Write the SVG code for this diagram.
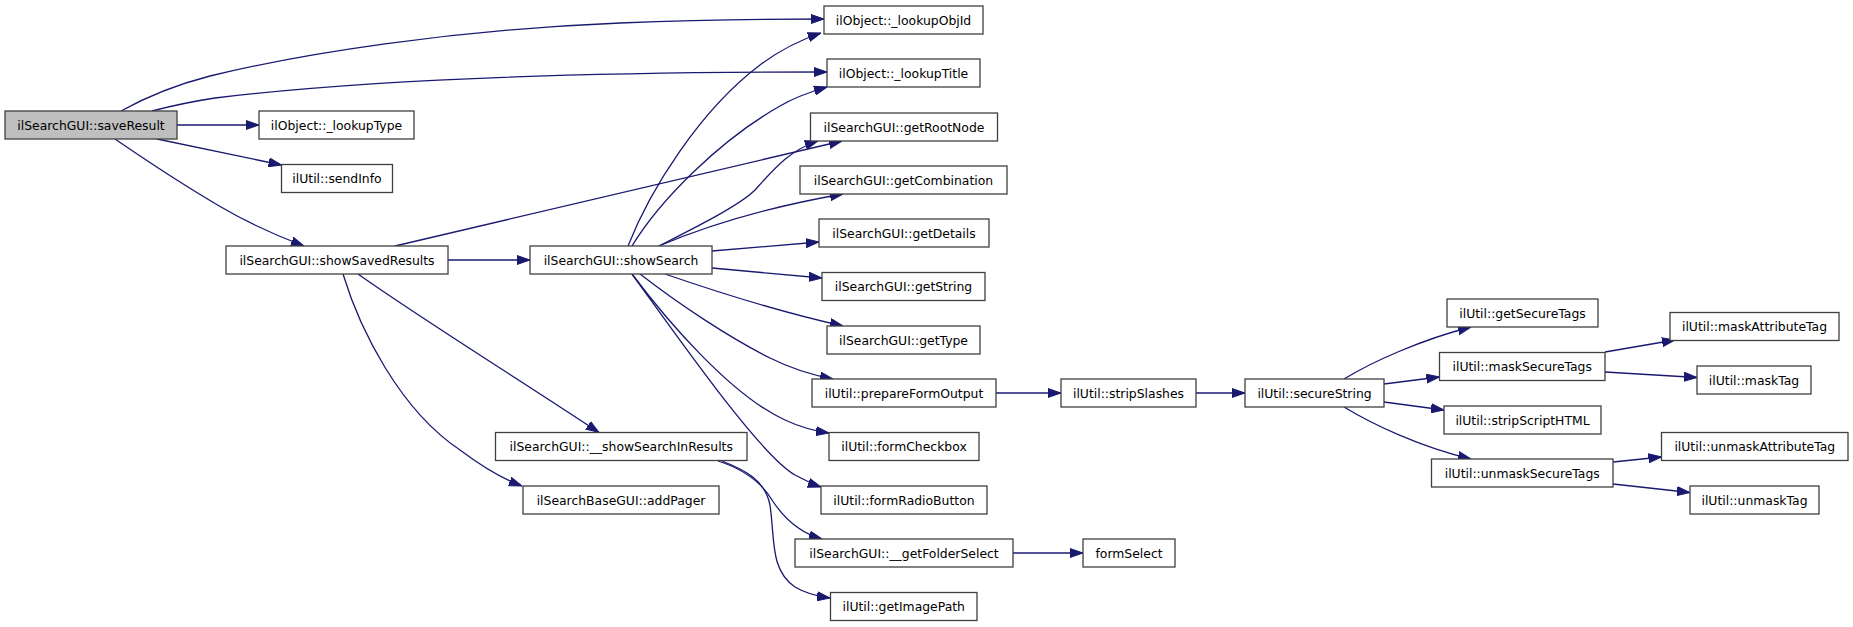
<svg xmlns="http://www.w3.org/2000/svg" width="1853" height="627" viewBox="0 0 1853 627">
<style>
.n rect{fill:#ffffff;stroke:#404040;stroke-width:1.3}
.n.cur rect{fill:#bfbfbf}
.n text{font-family:"DejaVu Sans",sans-serif;font-size:12.4px;fill:#000;text-anchor:middle}
.e path{fill:none;stroke:#191970;stroke-width:1.3;marker-end:url(#ah)}
</style>
<defs>
<marker id="ah" markerUnits="userSpaceOnUse" markerWidth="13" markerHeight="10" viewBox="0 0 13 10" refX="13" refY="5" orient="auto">
<path d="M0,0.5 L13,5 L0,9.5 z" fill="#191970" stroke="#191970" stroke-width="1"/>
</marker>
</defs>
<rect width="1853" height="627" fill="#ffffff"/>
<g id="connectors" class="e">
<path d="M121,111 C148,96 175,85 210,76 C300,54 450,30 620,23 C700,20 760,19 824,19"/>
<path d="M152,111 C175,105 195,101 215,98 C380,78 600,72 827,72"/>
<path d="M177,125 L259,125"/>
<path d="M157,139 L281.5,165"/>
<path d="M115,139 C150,163 185,186 221,207 C250,224 280,237 304,246"/>
<path d="M448,260 L530,260"/>
<path d="M395,246 L842,141"/>
<path d="M358,274 C420,318 520,380 599,432.5"/>
<path d="M343,274 C360,330 400,410 460,450 C480,465 500,478 522,486"/>
<path d="M628,246 C650,190 700,110 760,65 C780,50 800,40 821,33"/>
<path d="M632,246 C660,200 720,140 780,106 C795,97 810,92 827,87"/>
<path d="M659,246 C700,225 740,205 755,190 C775,168 790,150 818,141"/>
<path d="M659,246 C720,220 780,205 843,194"/>
<path d="M712,251 L819,242"/>
<path d="M712,268 L822,278"/>
<path d="M665,274 C720,293 780,312 843,326"/>
<path d="M640,274 C680,305 730,338 770,358 C792,369 812,375 833,379"/>
<path d="M632,274 C665,318 730,395 785,420 C800,427 815,431 829,433"/>
<path d="M632,274 C680,340 760,455 795,475 C805,480 812,484 821,487"/>
<path d="M718,461 C740,468 760,480 772,500 C785,520 800,533 822,539"/>
<path d="M722,461 C745,470 765,480 770,505 C775,540 770,570 795,587 C805,593 815,596 830,598"/>
<path d="M996,393 L1061,393"/>
<path d="M1013,553 L1083,553"/>
<path d="M1196,393 L1245,393"/>
<path d="M1344,379 C1372,362 1420,340 1471,327"/>
<path d="M1384,384 L1439.5,377"/>
<path d="M1384,402 L1444,410"/>
<path d="M1344,407 C1372,424 1420,447 1471,459"/>
<path d="M1605,352 L1675,340"/>
<path d="M1605,372 L1697,377.5"/>
<path d="M1613,462 L1661.5,457"/>
<path d="M1613,484 L1690,492.5"/>
</g>
<g id="saveResult" class="n cur"><rect x="5" y="111" width="172" height="28"/><text x="91" y="129.5">ilSearchGUI::saveResult</text></g>
<g id="lookupType" class="n"><rect x="259" y="111" width="155" height="28"/><text x="336.5" y="129.5">ilObject::_lookupType</text></g>
<g id="sendInfo" class="n"><rect x="281.5" y="164.5" width="111" height="28"/><text x="337" y="183">ilUtil::sendInfo</text></g>
<g id="showSavedResults" class="n"><rect x="226" y="246" width="222" height="28"/><text x="337" y="264.5">ilSearchGUI::showSavedResults</text></g>
<g id="showSearch" class="n"><rect x="530" y="246" width="182" height="28"/><text x="621" y="264.5">ilSearchGUI::showSearch</text></g>
<g id="showSearchInResults" class="n"><rect x="495.5" y="432.5" width="251.5" height="28"/><text x="621.25" y="451">ilSearchGUI::__showSearchInResults</text></g>
<g id="addPager" class="n"><rect x="523" y="486" width="196" height="28"/><text x="621" y="504.5">ilSearchBaseGUI::addPager</text></g>
<g id="lookupObjId" class="n"><rect x="824" y="6" width="159" height="28"/><text x="903.5" y="24.5">ilObject::_lookupObjId</text></g>
<g id="lookupTitle" class="n"><rect x="827" y="59" width="153" height="28"/><text x="903.5" y="77.5">ilObject::_lookupTitle</text></g>
<g id="getRootNode" class="n"><rect x="810.5" y="113" width="187" height="28"/><text x="904" y="131.5">ilSearchGUI::getRootNode</text></g>
<g id="getCombination" class="n"><rect x="800" y="166" width="207" height="28"/><text x="903.5" y="184.5">ilSearchGUI::getCombination</text></g>
<g id="getDetails" class="n"><rect x="819" y="219" width="170" height="28"/><text x="904" y="237.5">ilSearchGUI::getDetails</text></g>
<g id="getString" class="n"><rect x="822" y="272.5" width="163" height="28"/><text x="903.5" y="291">ilSearchGUI::getString</text></g>
<g id="getType" class="n"><rect x="827" y="326" width="153" height="28"/><text x="903.5" y="344.5">ilSearchGUI::getType</text></g>
<g id="prepareFormOutput" class="n"><rect x="812" y="379" width="184" height="28"/><text x="904" y="397.5">ilUtil::prepareFormOutput</text></g>
<g id="formCheckbox" class="n"><rect x="829" y="432.5" width="150" height="28"/><text x="904" y="451">ilUtil::formCheckbox</text></g>
<g id="formRadioButton" class="n"><rect x="821" y="486" width="166" height="28"/><text x="904" y="504.5">ilUtil::formRadioButton</text></g>
<g id="getFolderSelect" class="n"><rect x="795" y="539" width="218" height="28"/><text x="904" y="557.5">ilSearchGUI::__getFolderSelect</text></g>
<g id="getImagePath" class="n"><rect x="830.5" y="592.5" width="146.5" height="28"/><text x="903.75" y="611">ilUtil::getImagePath</text></g>
<g id="stripSlashes" class="n"><rect x="1061" y="379" width="135" height="28"/><text x="1128.5" y="397.5">ilUtil::stripSlashes</text></g>
<g id="formSelect" class="n"><rect x="1083" y="539" width="92" height="28"/><text x="1129" y="557.5">formSelect</text></g>
<g id="secureString" class="n"><rect x="1245" y="379" width="139" height="28"/><text x="1314.5" y="397.5">ilUtil::secureString</text></g>
<g id="getSecureTags" class="n"><rect x="1447" y="299" width="151" height="28"/><text x="1522.5" y="317.5">ilUtil::getSecureTags</text></g>
<g id="maskSecureTags" class="n"><rect x="1439.5" y="352.5" width="165.5" height="28"/><text x="1522.25" y="371">ilUtil::maskSecureTags</text></g>
<g id="stripScriptHTML" class="n"><rect x="1444" y="406" width="157" height="28"/><text x="1522.5" y="424.5">ilUtil::stripScriptHTML</text></g>
<g id="unmaskSecureTags" class="n"><rect x="1431.5" y="459" width="181.5" height="28"/><text x="1522.25" y="477.5">ilUtil::unmaskSecureTags</text></g>
<g id="maskAttributeTag" class="n"><rect x="1670" y="312.5" width="169" height="28"/><text x="1754.5" y="331">ilUtil::maskAttributeTag</text></g>
<g id="maskTag" class="n"><rect x="1697" y="366" width="114" height="28"/><text x="1754" y="384.5">ilUtil::maskTag</text></g>
<g id="unmaskAttributeTag" class="n"><rect x="1661.5" y="432.5" width="186.5" height="28"/><text x="1754.75" y="451">ilUtil::unmaskAttributeTag</text></g>
<g id="unmaskTag" class="n"><rect x="1690" y="486" width="129" height="28"/><text x="1754.5" y="504.5">ilUtil::unmaskTag</text></g>
</svg>
